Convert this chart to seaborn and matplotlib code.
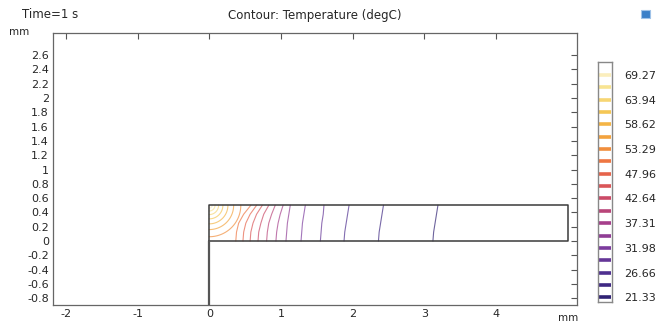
import matplotlib
matplotlib.use("Agg")
import matplotlib.pyplot as plt
from matplotlib.colors import LinearSegmentedColormap, Normalize
from matplotlib.patches import Rectangle
import numpy as np
import pandas as pd
import seaborn as sns

# contour levels (degC), coldest first
levels = [21.33, 23.99, 26.66, 29.32, 31.98, 34.65, 37.31, 39.98, 42.64, 45.30,
          47.96, 50.63, 53.29, 55.96, 58.62, 61.28, 63.94, 66.61, 69.27]
bar_labels = ["21.33", "26.66", "31.98", "37.31", "42.64",
              "47.96", "53.29", "58.62", "63.94", "69.27"]
bar_min, bar_max = 20.3, 72.1

# isotherms that cross the whole layer: x (mm) read at these depths
line_y = [0.5, 0.375, 0.25, 0.125, 0.0]
line_x = [
    [3.19, 3.17, 3.15, 3.13, 3.12],
    [2.43, 2.41, 2.39, 2.37, 2.36],
    [1.95, 1.93, 1.91, 1.89, 1.88],
    [1.60, 1.59, 1.57, 1.56, 1.55],
    [1.34, 1.32, 1.30, 1.29, 1.28],
    [1.13, 1.11, 1.09, 1.08, 1.07],
    [1.03, 0.99, 0.96, 0.94, 0.93],
    [0.92, 0.87, 0.83, 0.81, 0.80],
    [0.83, 0.76, 0.72, 0.69, 0.68],
    [0.74, 0.66, 0.61, 0.58, 0.57],
    [0.66, 0.57, 0.51, 0.48, 0.47],
    [0.58, 0.48, 0.41, 0.38, 0.37],
]
# hottest isotherms: closed arcs around the corner (0, 0.5), radius in mm
arc_radius = [0.44, 0.34, 0.26, 0.19, 0.13, 0.08, 0.04]

# geometry outline
domain_x = [0, 5, 5, 0, 0]
domain_y = [0, 0, 0.5, 0.5, 0]
axis_x = [0, 0]
axis_y = [-0.9, 0]

x_ticks = [-2, -1, 0, 1, 2, 3, 4]
y_ticks = [-0.8, -0.6, -0.4, -0.2, 0, 0.2, 0.4, 0.6, 0.8, 1, 1.2, 1.4,
           1.6, 1.8, 2, 2.2, 2.4, 2.6]

# build long table of contour polylines
rows = []
for lev, xs in zip(levels, line_x):
    for i, (x, y) in enumerate(zip(xs, line_y)):
        rows.append((lev, i, x, y))
ang = np.deg2rad(np.linspace(0, 90, 30))
for lev, r in zip(levels[len(line_x):], arc_radius):
    for i, a in enumerate(ang):
        rows.append((lev, i, r * np.cos(a), 0.5 - r * np.sin(a)))
df = pd.DataFrame(rows, columns=["level", "order", "x", "y"])

cmap = LinearSegmentedColormap.from_list(
    "thermal",
    ["#2b1f6e", "#4a2f8f", "#7b3c9e", "#a83f8a", "#d04c62",
     "#ec6a45", "#f39a3a", "#f5c34c", "#f8e38e", "#fdf8e4"],
)
norm = Normalize(bar_min, bar_max)
palette = {lev: cmap(norm(lev)) for lev in levels}

sns.set_style("white")
plt.rcParams["font.family"] = ["DejaVu Sans"]
plt.rcParams["font.size"] = 8

W, H = 659, 322
fig = plt.figure(figsize=(W / 100, H / 100), dpi=100)
ax = fig.add_axes([53 / W, 1 - 305 / H, 524 / W, 272 / H])

sns.lineplot(data=df, x="x", y="y", hue="level", units="level", estimator=None,
             sort=False, palette=palette, legend=False, linewidth=0.8,
             alpha=0.7, ax=ax)
ax.plot(domain_x, domain_y, color="#3a3a3a", linewidth=1.1, zorder=3)
ax.plot(axis_x, axis_y, color="#555555", linewidth=1.6, zorder=3)

ax.set_xlim(-2.18, 5.13)
ax.set_ylim(-0.895, 2.91)
ax.set_xticks(x_ticks)
ax.set_xticklabels([f"{v:g}" for v in x_ticks])
ax.set_yticks(y_ticks)
ax.set_yticklabels([f"{v:g}" for v in y_ticks])
ax.set_xlabel("")
ax.set_ylabel("")
ax.tick_params(direction="in", length=4, width=0.8, color="#555555",
               top=True, right=True, labelsize=8, pad=3)
for s in ax.spines.values():
    s.set_color("#666666")
    s.set_linewidth(0.9)

# colorbar made of level dashes
cax = fig.add_axes([598 / W, 1 - 302 / H, 14 / W, 240 / H])
cax.set_ylim(bar_min, bar_max)
cax.set_xlim(0, 1)
cax.hlines(levels, 0.08, 0.92, colors=[palette[l] for l in levels], linewidth=2.6)
cax.set_xticks([])
cax.set_yticks(levels[::2])
cax.set_yticklabels(bar_labels)
cax.yaxis.tick_right()
cax.tick_params(axis="y", length=0, pad=9, labelsize=8)
for s in cax.spines.values():
    s.set_color("#888888")
    s.set_linewidth(1.0)

fig.text(22 / W, 1 - 15 / H, "Time=1 s", fontsize=8.5, va="center", ha="left")
fig.text(315 / W, 1 - 15 / H, "Contour: Temperature (degC)", fontsize=8.5,
         va="center", ha="center")
fig.text(19 / W, 1 - 32 / H, "mm", fontsize=7.5, va="center", ha="center")
fig.text(568 / W, 1 - 318 / H, "mm", fontsize=7.5, va="center", ha="center")
fig.patches.append(Rectangle((641 / W, 1 - 18 / H), 9 / W, 8 / H,
                             transform=fig.transFigure, facecolor="#3a7fc8",
                             edgecolor="#9fc2e8", linewidth=0.8))

fig.savefig("out.png", dpi=100)
